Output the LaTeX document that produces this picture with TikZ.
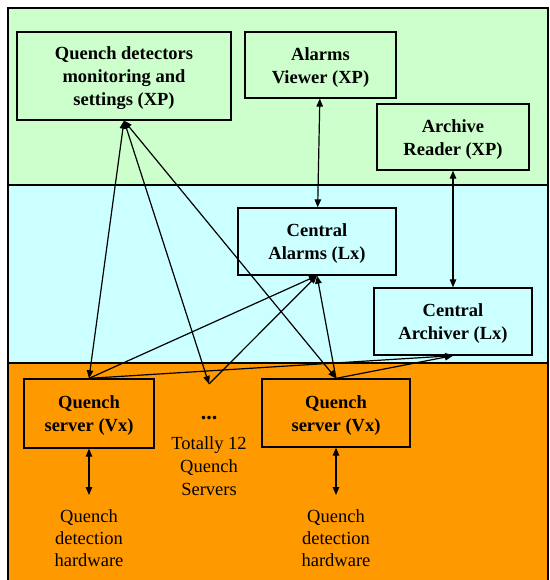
\documentclass[tikz,border=0pt]{standalone}
\usepackage{fontspec}
\setmainfont{Liberation Serif}
\usetikzlibrary{arrows.meta}
\definecolor{bandgreen}{HTML}{CCFFCC}
\definecolor{bandcyan}{HTML}{CCFFFF}
\definecolor{bandorange}{HTML}{FF9900}
\newcommand{\topstrut}{\rule{0pt}{17.5pt}}
\begin{document}
\begin{tikzpicture}[x=1pt,y=-1pt,
  txt/.style={font=\fontsize{18.5}{23}\selectfont, align=center, inner sep=0pt},
  hwtxt/.style={font=\fontsize{18.5}{22}\selectfont, align=center, inner sep=0pt},
  box/.style={draw, line width=1.3pt, align=center, inner sep=0pt,
    font=\bfseries\fontsize{18.5}{23}\selectfont},
  band/.style={draw, line width=1.3pt},
  tip/.tip={Triangle[length=8pt,width=6.5pt]},
  conn/.style={line width=1.2pt, -tip},
  dconn/.style={line width=1.2pt, tip-tip}]
\useasboundingbox (0,0) rectangle (549,580);
\clip (0,0) rectangle (549,580);
% bands
\path[band, fill=bandgreen] (8,8) rectangle (548,185);
\path[band, fill=bandcyan] (8,185) rectangle (548,363);
\path[band, fill=bandorange] (8,363) rectangle (548,600);
% boxes
\node[box, fill=bandgreen, minimum width=214pt, minimum height=88pt] (qd) at (124,76)
  {\topstrut Quench detectors\\monitoring and\\settings (XP)};
\node[box, fill=bandgreen, minimum width=151pt, minimum height=66pt] (viewer) at (320.5,65)
  {\topstrut Alarms\\Viewer (XP)};
\node[box, fill=bandgreen, minimum width=152pt, minimum height=66pt] (reader) at (453,137)
  {\topstrut Archive\\Reader (XP)};
\node[box, fill=bandcyan, minimum width=158pt, minimum height=67pt] (ca) at (317,241.5)
  {\topstrut Central\\Alarms (Lx)};
\node[box, fill=bandcyan, minimum width=158pt, minimum height=67pt] (arch) at (453,321.5)
  {\topstrut Central\\Archiver (Lx)};
\node[box, fill=bandorange, minimum width=130pt, minimum height=69pt] (qs1) at (89,413.5)
  {\topstrut Quench\\server (Vx)};
\node[box, fill=bandorange, minimum width=148pt, minimum height=68pt] (qs2) at (336,413)
  {\topstrut Quench\\server (Vx)};
% texts
\node[txt, font=\bfseries\fontsize{22}{23}\selectfont] (dots) at (209,418) {...};
\node[txt] (total) at (209,466) {Totally 12\\Quench\\Servers};
\node[hwtxt] (hw1) at (89,538) {Quench\\detection\\hardware};
\node[hwtxt] (hw2) at (336,538) {Quench\\detection\\hardware};
\coordinate (dtip) at (209,384);
\coordinate (hw1top) at (89,495);
\coordinate (hw2top) at (336,495);
% connectors
\draw[dconn] (viewer) -- (ca);
\draw[dconn] (reader) -- (arch);
\draw[dconn] (qd.south) -- (qs1.north);
\draw[dconn] (qd.south) -- (dtip);
\draw[dconn] (qd.south) -- (qs2.north);
\draw[conn] (qs1.north) -- (ca.south);
\draw[conn] (dtip) -- (ca.south);
\draw[conn] (qs2.north) -- (ca.south);
\draw[conn] (qs1.north) -- (arch.south);
\draw[conn] (qs2.north) -- (arch.south);
\draw[dconn] (qs1) -- (hw1top);
\draw[dconn] (qs2) -- (hw2top);
\end{tikzpicture}
\end{document}
